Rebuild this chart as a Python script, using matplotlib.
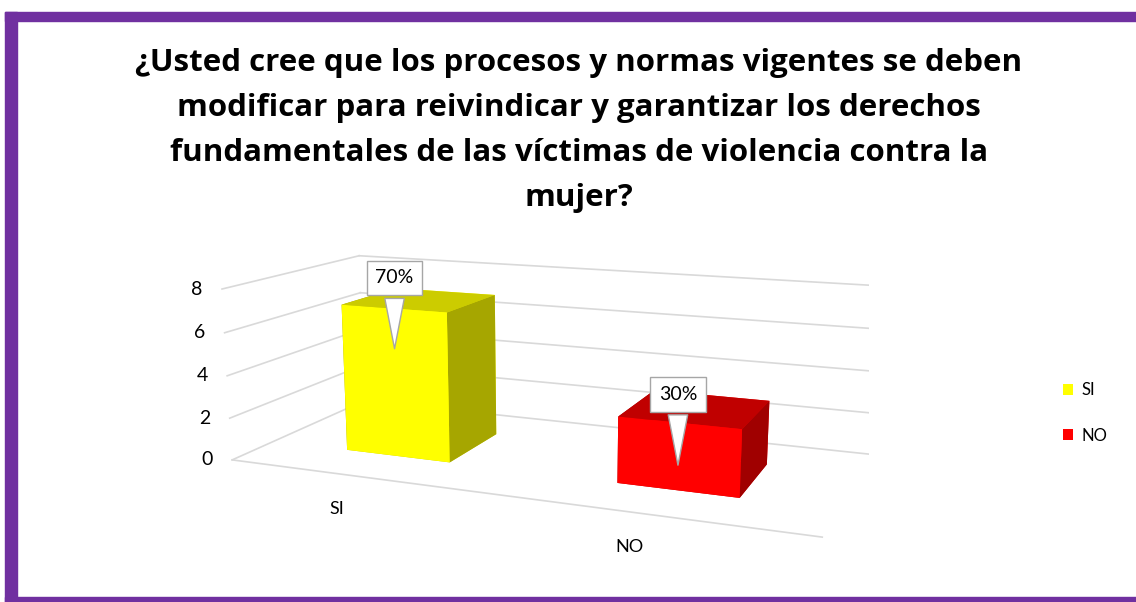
import numpy as np
import matplotlib
matplotlib.use("Agg")
import matplotlib.pyplot as plt
from matplotlib.patches import Rectangle, Patch
from mpl_toolkits.mplot3d import proj3d

categories = ["SI", "NO"]
values = [7, 3]
percent_labels = ["70%", "30%"]
zticks = [0, 2, 4, 6, 8]
front_colors = ["#FFFF00", "#FF0000"]
top_colors = ["#CCCC00", "#C00000"]
side_colors = ["#A6A600", "#A00000"]
title_lines = ["¿Usted cree que los procesos y normas vigentes se deben",
               "modificar para reivindicar y garantizar los derechos",
               "fundamentales de las víctimas de violencia contra la",
               "mujer?"]

plt.rcParams['font.family'] = ['Lato', 'DejaVu Sans']

W, H = 1136, 602
fig = plt.figure(figsize=(W / 100, H / 100), dpi=100)
fig.patch.set_facecolor("white")

purple = "#7030A0"
def px_rect(x0, y0, x1, y1):
    fig.patches.append(Rectangle((x0 / W, 1 - y1 / H), (x1 - x0) / W, (y1 - y0) / H,
                                 transform=fig.transFigure, color=purple, zorder=10))
px_rect(5, 12, 17, 602)
px_rect(5, 12, 1136, 21)
px_rect(5, 597, 1136, 602)

for k, line in enumerate(title_lines):
    fig.text(579 / W, 1 - (71 + 45 * k) / H, line, ha="center", va="baseline",
             fontsize=22.5, fontweight="bold", family=["Open Sans", "DejaVu Sans"],
             color="black", zorder=5)

ax = fig.add_axes([-0.106, -0.175, 1.17, 1.08], projection="3d")
ax.patch.set_alpha(0)
ax.set_axis_off()
ax.computed_zorder = False
ax.set_xlim(0, 2)
ax.set_ylim(0, 1)
ax.set_zlim(0, 8)
ax.set_box_aspect((3.4, 1.5, 1.0), zoom=1.0)
ax.set_proj_type("persp", focal_length=0.36)
ax.view_init(elev=13, azim=-68)

grid_c = "#D9D9D9"
for z in zticks:
    ax.plot([0, 0], [0, 1], [z, z], color=grid_c, lw=1.2, zorder=1)
    ax.plot([0, 2], [1, 1], [z, z], color=grid_c, lw=1.2, zorder=1)
ax.plot([0, 2], [0, 0], [0, 0], color=grid_c, lw=1.2, zorder=1)

bw, bd = 0.4, 0.43
for i, v in enumerate(values):
    x0 = i + 0.5 - bw / 2
    cols = [top_colors[i], top_colors[i], front_colors[i], front_colors[i],
            side_colors[i], side_colors[i]]
    ax.bar3d(x0, 0.5 - bd / 2, 0, bw, bd, v, color=cols, shade=False,
             linewidth=0, zorder=2 + i)

fig.canvas.draw()
M = ax.get_proj()
for z in zticks:
    xs, ys, _ = proj3d.proj_transform(0, 0, z, M)
    ax.annotate(str(z), xy=(xs, ys), xycoords="data", xytext=(-14, 0),
                textcoords="offset points", ha="right", va="center",
                fontsize=14, color="black", zorder=5, annotation_clip=False)
for i, c in enumerate(categories):
    xs, ys, _ = proj3d.proj_transform(i + 0.5, 0, 0, M)
    ax.annotate(c, xy=(xs, ys), xycoords="data", xytext=(-17, -23),
                textcoords="offset points", ha="center", va="center",
                fontsize=13, color="black", zorder=5, annotation_clip=False)
for i, v in enumerate(values):
    xs, ys, _ = proj3d.proj_transform(i + 0.5, 0.5 - bd / 2, v - 2, M)
    ax.annotate(percent_labels[i], xy=(xs, ys), xycoords="data", xytext=(0, 53),
                textcoords="offset points", ha="center", va="center",
                fontsize=14, color="black", zorder=10, annotation_clip=False,
                bbox=dict(boxstyle="square,pad=0.45", fc="white", ec="#A6A6A6", lw=1),
                arrowprops=dict(arrowstyle="wedge,tail_width=1.0", fc="white",
                                ec="#A6A6A6", lw=1))

handles = [Patch(facecolor=front_colors[i], edgecolor="none", label=categories[i])
           for i in range(len(categories))]
fig.legend(handles=handles, loc="center left", bbox_to_anchor=(1063 / W, 1 - 413 / H),
           frameon=False, fontsize=12, handlelength=0.6, handleheight=0.6,
           handletextpad=0.5, labelspacing=1.75, borderpad=0, borderaxespad=0)

fig.savefig("out.png", dpi=100)
